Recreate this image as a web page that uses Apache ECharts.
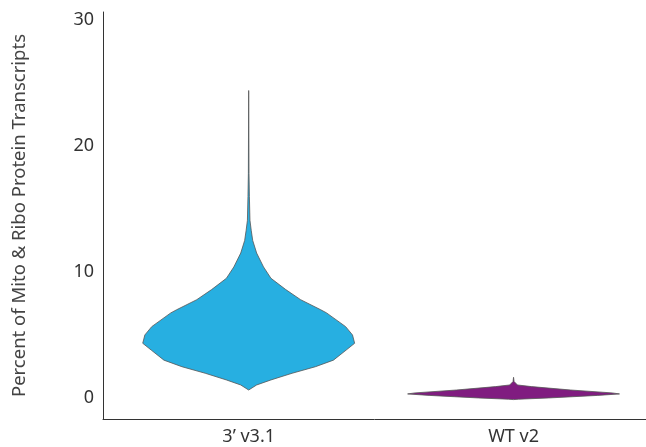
<!DOCTYPE html>
<html><head><meta charset="utf-8">
<script src="https://cdn.jsdelivr.net/npm/echarts@6/dist/echarts.min.js"></script>
<style>html,body{margin:0;padding:0;background:#fff}#c{width:646px;height:447px}</style>
</head><body><div id="c"></div>
<script>
const categories = ['3\u2019 v3.1', 'WT v2'];
const yTicks = [0, 10, 20, 30];
// violin profiles: values (percent) and relative density (half-width, max = 1)
const blueValues   = [0.63, 1.03, 1.43, 1.96, 2.48, 3.0, 3.8, 4.34, 5.0, 5.66, 6.75, 7.0, 7.8, 8.6, 9.5, 10.4, 11.5, 12.5, 13.3, 14.1, 16.0, 17.8, 24.4];
const blueDensity  = [0, 0.075, 0.21, 0.41, 0.63, 0.80, 0.92, 1.0, 0.98, 0.915, 0.735, 0.68, 0.49, 0.35, 0.21, 0.14, 0.075, 0.038, 0.024, 0.012, 0.0066, 0.003, 0];
const purpleValues  = [-0.13, -0.1, 0.0, 0.1, 0.2, 0.32, 0.4, 0.63, 0.9, 1.03, 1.3, 1.64];
const purpleDensity = [0, 0.047, 0.33, 0.56, 0.79, 1.0, 0.93, 0.54, 0.17, 0.037, 0.005, 0];
const colors = ['#27AFE1', '#801C80'];

const violins = [
  { values: blueValues, density: blueDensity },
  { values: purpleValues, density: purpleDensity }
];
const maxHalf = 0.4;

const chart = echarts.init(document.getElementById('c'), null, { renderer: 'canvas' });
const font = 'Noto Sans';
chart.setOption({
  animation: false,
  grid: { left: 103, right: 0, top: 12, bottom: 28 },
  xAxis: {
    type: 'value', min: -0.55, max: 1.5,
    axisLine: { show: true, onZero: false, lineStyle: { color: '#333', width: 1 } },
    splitLine: { show: false }, axisTick: { show: false },
    axisLabel: {
      customValues: [0, 1],
      formatter: v => categories[Math.round(v)],
      fontSize: 18, color: '#333', margin: 9, fontFamily: font
    }
  },
  yAxis: {
    type: 'value', min: -1.67, max: 30.63,
    axisLine: { show: true, onZero: false, lineStyle: { color: '#333', width: 1 } },
    splitLine: { show: false }, axisTick: { show: false },
    axisLabel: { customValues: yTicks, fontSize: 18, color: '#333', margin: 9, fontFamily: font },
    name: 'Percent of Mito & Ribo Protein Transcripts',
    nameLocation: 'middle', nameGap: 74,
    nameTextStyle: { fontSize: 18.5, color: '#444', fontFamily: font }
  },
  series: [{
    type: 'custom',
    data: categories.map((c, i) => [i]),
    encode: { x: 0 },
    renderItem: function (params, api) {
      const i = params.dataIndex;
      const v = violins[i];
      const pts = [];
      for (let k = 0; k < v.values.length; k++) {
        pts.push(api.coord([i + v.density[k] * maxHalf, v.values[k]]));
      }
      for (let k = v.values.length - 1; k >= 0; k--) {
        pts.push(api.coord([i - v.density[k] * maxHalf, v.values[k]]));
      }
      return {
        type: 'polygon',
        shape: { points: pts },
        style: { fill: colors[i], stroke: '#555', lineWidth: 0.8 }
      };
    }
  }]
});
</script></body></html>
